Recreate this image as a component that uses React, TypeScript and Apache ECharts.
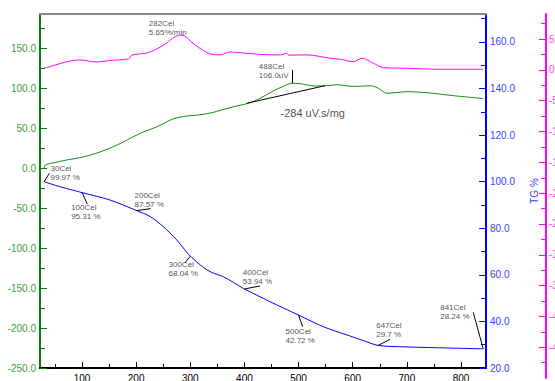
import React, { useEffect, useRef } from 'react';
import * as echarts from 'echarts';

// ---- axes ----
const tempRange = [22.4, 846.2];
const tempTicks = [100, 200, 300, 400, 500, 600, 700, 800];
const tempMinorTicks = [50, 150, 250, 350, 450, 550, 650, 750];
const dscRange = [-250, 192.5];
const dscTicks = [-250, -200, -150, -100, -50, 0, 50, 100, 150];
const dscMinorTicks = [-225, -175, -125, -75, -25, 25, 75, 125, 175];
const tgRange = [20, 172];
const tgTicks = [20, 40, 60, 80, 100, 120, 140, 160];
const tgMinorTicks = [30, 50, 70, 90, 110, 130, 150, 170];
const dtgRange = [-50, 9.08];
const dtgTicks = [-45, -40, -35, -30, -25, -20, -15, -10, -5, 0, 5];
const dtgMinorTicks = [-47.5, -42.5, -37.5, -32.5, -27.5, -22.5, -17.5, -12.5, -7.5, -2.5, 2.5, 7.5];

// ---- TG (%) ----
const tgTemps = [30, 60, 100, 152, 201, 226, 250, 275, 293, 300, 324, 340, 361, 398, 400, 447, 500, 546, 589, 617, 647, 694, 755, 841];
const tgValues = [99.97, 97.8, 95.31, 92.1, 87.57, 85.0, 80.7, 75.0, 69.8, 68.04, 63.2, 61.0, 59.2, 54.2, 53.94, 48.5, 42.72, 37.7, 34.2, 32.0, 29.7, 29.1, 28.7, 28.24];

// ---- DSC (uV) ----
const dscTemps = [30, 32, 46, 72, 102, 133, 165, 194, 213, 238, 268, 294, 318, 342, 355, 380, 407, 429, 453, 470, 488, 503, 530, 548, 572, 600, 635, 648, 663, 700, 737, 786, 841];
const dscValues = [0, 3.5, 6.3, 10, 13.8, 20, 28.8, 38.8, 45, 51.3, 61.3, 65, 66.5, 69.5, 72, 76.6, 80.9, 87.1, 96.3, 101.5, 106.0, 105.4, 102.5, 102.6, 104.0, 102.0, 102.7, 99.5, 93.4, 95.4, 94.1, 90.4, 86.8];

// ---- DTG (%/min) ----
const dtgTemps = [30, 47, 72, 96, 127, 152, 186, 192, 220, 238, 257, 270, 282, 290, 300, 318, 337, 355, 373, 404, 435, 466, 478, 482, 515, 558, 577, 601, 617, 638, 657, 700, 761, 841];
const dtgValues = [0.3, 0.7, 1.35, 1.62, 1.3, 1.55, 1.8, 2.4, 2.75, 3.4, 4.4, 5.3, 5.65, 5.5, 4.7, 3.5, 2.6, 2.45, 2.9, 2.7, 2.5, 2.45, 2.7, 2.4, 2.45, 1.9, 1.74, 1.35, 1.9, 1.1, 0.37, 0.28, 0.11, 0.12];

// ---- annotations ----
const tgMarkTemps = [30, 100, 200, 300, 400, 500, 647, 841];
const tgMarkValues = [99.97, 95.31, 87.57, 68.04, 53.94, 42.72, 29.7, 28.24];
const tgMarkTexts = ['99.97 %', '95.31 %', '87.57 %', '68.04 %', '53.94 %', '42.72 %', '29.7 %', '28.24 %'];
const dscPeakTemp = 488;
const dscPeakValue = 106.0;
const dscPeakText = '106.0uV';
const dscAreaText = '-284 uV.s/mg';
const dscBaseline = [[404.2, 80.9], [549, 102.9]];
const dtgPeakTemp = 282;
const dtgPeakText = '5.65%/min';

// layout of annotation texts / leader ends, in axis units
const tgLeaderEnds = [[39.6, 103.6], [109.8, 90.4], [226.9, 88.4], [290.2, 65.2], [428.8, 55.2], [507.6, 37.7], [668.9, 32.3], [822.7, 43.9]];
const tgLabelAnchors = [[42.7, 107.2], [80.9, 90.76], [197.9, 95.8], [260.7, 66.2], [397.9, 62.6], [476.8, 37.5], [644.3, 40.0], [762.5, 47.8]];
const dscLeaderEnd = 122.5;
const dscLabelAnchor = [427.5, 132.2];
const dscAreaAnchor = [467.6, 68.4];
const dtgLabelAnchor = [224.3, 8.19];

const FONT = '"Liberation Sans", Arial, sans-serif';
const zip = (a: number[], b: number[]) => a.map((x, i) => [x, b[i]]);

export default function App() {
  const ref = useRef<HTMLDivElement>(null);
  useEffect(() => {
    const chart = echarts.init(ref.current!, null, { renderer: 'svg' });
    const noSplit = { show: false };
    const xBase = { type: 'value', min: tempRange[0], max: tempRange[1], splitLine: noSplit };
    const annoLabel = {
      show: true,
      position: [0, 0],
      align: 'left',
      verticalAlign: 'top',
      formatter: '{b}',
      fontSize: 8,
      lineHeight: 9,
      color: '#222',
      fontFamily: FONT,
    };
    const leaderStyle = { color: '#000', width: 1, type: 'solid' };
    const option: any = {
      animation: false,
      backgroundColor: '#ffffff',
      grid: [
        { left: 40, right: 69, top: 14, bottom: 13, containLabel: false, outerBoundsMode: 'none' },
        { left: 40, right: 69, top: 14, bottom: 3, containLabel: false, outerBoundsMode: 'none' },
      ],
      xAxis: [
        {
          ...xBase, gridIndex: 0, position: 'bottom',
          axisLine: { onZero: false, lineStyle: { color: '#000', width: 2 } },
          axisTick: { inside: true, length: 6, customValues: tempTicks, lineStyle: { color: '#000', width: 1 } },
          axisLabel: { customValues: tempTicks, color: '#000', fontSize: 10, fontFamily: FONT, margin: 5 },
        },
        {
          ...xBase, gridIndex: 0, position: 'bottom',
          axisLine: { show: false, onZero: false },
          axisTick: { inside: true, length: 4, customValues: tempMinorTicks, lineStyle: { color: '#000', width: 1 } },
          axisLabel: { show: false },
        },
        {
          ...xBase, gridIndex: 0, position: 'top',
          axisLine: { onZero: false, lineStyle: { color: '#888', width: 2 } },
          axisTick: { show: false },
          axisLabel: { show: false },
        },
        { ...xBase, gridIndex: 1, show: false, axisLine: { onZero: false } },
      ],
      yAxis: [
        {
          type: 'value', gridIndex: 0, position: 'left', min: dscRange[0], max: dscRange[1], splitLine: noSplit,
          axisLine: { show: true, onZero: false, lineStyle: { color: '#0a7a0a', width: 2 } },
          axisTick: { show: true, inside: true, length: 7, customValues: dscTicks, lineStyle: { color: '#0a7a0a', width: 1 } },
          axisLabel: { customValues: dscTicks, color: '#3a9e3a', fontSize: 10, fontFamily: FONT, margin: 4, formatter: (v: number) => v.toFixed(1) },
        },
        {
          type: 'value', gridIndex: 0, position: 'left', min: dscRange[0], max: dscRange[1], splitLine: noSplit,
          axisLine: { show: false, onZero: false },
          axisTick: { show: true, inside: true, length: 5, customValues: dscMinorTicks, lineStyle: { color: '#0a7a0a', width: 1 } },
          axisLabel: { show: false },
        },
        {
          type: 'value', gridIndex: 0, position: 'right', min: tgRange[0], max: tgRange[1], splitLine: noSplit,
          name: 'TG %', nameLocation: 'middle', nameGap: 43,
          nameTextStyle: { color: '#3a3aff', fontSize: 10, fontFamily: FONT },
          axisLine: { show: true, onZero: false, lineStyle: { color: '#0000ff', width: 2 } },
          axisTick: { show: true, inside: true, length: 7, customValues: tgTicks, lineStyle: { color: '#0000ff', width: 1 } },
          axisLabel: { customValues: tgTicks, color: '#4040ff', fontSize: 10, fontFamily: FONT, margin: 4, formatter: (v: number) => v.toFixed(1) },
        },
        {
          type: 'value', gridIndex: 0, position: 'right', min: tgRange[0], max: tgRange[1], splitLine: noSplit,
          axisLine: { show: false, onZero: false },
          axisTick: { show: true, inside: true, length: 5, customValues: tgMinorTicks, lineStyle: { color: '#0000ff', width: 1 } },
          axisLabel: { show: false },
        },
        {
          type: 'value', gridIndex: 1, position: 'right', offset: 60, min: dtgRange[0], max: dtgRange[1], splitLine: noSplit,
          axisLine: { show: true, onZero: false, lineStyle: { color: '#ff00ff', width: 2 } },
          axisTick: { show: true, inside: true, length: 7, customValues: dtgTicks, lineStyle: { color: '#ff00ff', width: 1 } },
          axisLabel: { customValues: dtgTicks, color: '#ff40ff', fontSize: 10, fontFamily: FONT, margin: 3 },
        },
        {
          type: 'value', gridIndex: 1, position: 'right', offset: 60, min: dtgRange[0], max: dtgRange[1], splitLine: noSplit,
          axisLine: { show: false, onZero: false },
          axisTick: { show: true, inside: true, length: 5, customValues: dtgMinorTicks, lineStyle: { color: '#ff00ff', width: 1 } },
          axisLabel: { show: false },
        },
      ],
      series: [
        {
          type: 'line', name: 'DSC', xAxisIndex: 0, yAxisIndex: 0, showSymbol: false, symbol: 'none', smooth: 0.3,
          lineStyle: { color: '#168a16', width: 1 }, silent: true,
          data: zip(dscTemps, dscValues),
          markLine: {
            silent: true, symbol: ['none', 'none'], label: { show: false }, lineStyle: leaderStyle,
            data: [
              [{ coord: [dscPeakTemp, dscPeakValue] }, { coord: [dscPeakTemp, dscLeaderEnd] }],
              [{ coord: dscBaseline[0] }, { coord: dscBaseline[1] }],
            ],
          },
        },
        {
          type: 'line', name: 'TG', xAxisIndex: 0, yAxisIndex: 2, showSymbol: false, symbol: 'none', smooth: 0.3,
          lineStyle: { color: '#0000ff', width: 1 }, silent: true,
          data: zip(tgTemps, tgValues),
          markLine: {
            silent: true, symbol: ['none', 'none'], label: { show: false }, lineStyle: leaderStyle,
            data: tgMarkTemps.map((t, i) => [{ coord: [t, tgMarkValues[i]] }, { coord: tgLeaderEnds[i] }]),
          },
        },
        {
          type: 'line', name: 'DTG', xAxisIndex: 3, yAxisIndex: 4, showSymbol: false, symbol: 'none', smooth: 0.3,
          lineStyle: { color: '#ff00ff', width: 1 }, silent: true,
          data: zip(dtgTemps, dtgValues),
        },
        {
          type: 'scatter', xAxisIndex: 0, yAxisIndex: 2, symbolSize: 1, silent: true,
          itemStyle: { color: 'rgba(0,0,0,0)' },
          label: annoLabel,
          data: tgMarkTemps.map((t, i) => ({ name: `${t}Cel\n${tgMarkTexts[i]}`, value: tgLabelAnchors[i] })),
        },
        {
          type: 'scatter', xAxisIndex: 0, yAxisIndex: 0, symbolSize: 1, silent: true,
          itemStyle: { color: 'rgba(0,0,0,0)' },
          label: annoLabel,
          data: [
            { name: `${dscPeakTemp}Cel\n${dscPeakText}`, value: dscLabelAnchor },
            { name: dscAreaText, value: dscAreaAnchor, label: { fontSize: 11, lineHeight: 13, verticalAlign: 'middle', color: '#222' } },
          ],
        },
        {
          type: 'scatter', xAxisIndex: 3, yAxisIndex: 4, symbolSize: 1, silent: true,
          itemStyle: { color: 'rgba(0,0,0,0)' },
          label: annoLabel,
          data: [{ name: `${dtgPeakTemp}Cel\n${dtgPeakText}`, value: dtgLabelAnchor }],
        },
      ],
    };
    chart.setOption(option);
    return () => chart.dispose();
  }, []);
  return (
    <div
      ref={ref}
      style={{ position: 'fixed', left: 0, top: 0, width: 555, height: 381, background: '#fff' }}
    />
  );
}
